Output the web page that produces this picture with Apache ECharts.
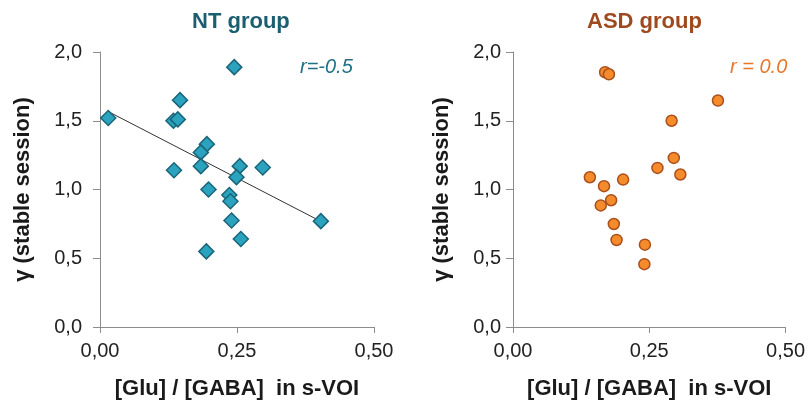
<!DOCTYPE html>
<html>
<head>
<meta charset="utf-8">
<script src="https://cdn.jsdelivr.net/npm/echarts@6/dist/echarts.min.js"></script>
<style>
  html, body { margin: 0; padding: 0; background: #fff; }
  #chart { width: 808px; height: 405px; }
</style>
</head>
<body>
<div id="chart"></div>
<script>
// NT group (diamonds)
var ntX = [0.015, 0.245, 0.146, 0.134, 0.142, 0.195, 0.184, 0.184, 0.135, 0.255,
           0.297, 0.249, 0.198, 0.236, 0.238, 0.240, 0.257, 0.194, 0.403];
var ntY = [1.52, 1.89, 1.65, 1.50, 1.51, 1.33, 1.27, 1.17, 1.14, 1.17,
           1.16, 1.09, 1.00, 0.96, 0.915, 0.775, 0.64, 0.55, 0.77];
// regression line end points
var trendX = [0.015, 0.403];
var trendY = [1.567, 0.768];

// ASD group (circles)
var asdX = [0.169, 0.176, 0.376, 0.291, 0.295, 0.265, 0.307, 0.141, 0.202, 0.167,
            0.180, 0.161, 0.185, 0.190, 0.242, 0.241];
var asdY = [1.853, 1.838, 1.647, 1.50, 1.23, 1.157, 1.109, 1.089, 1.072, 1.024,
            0.922, 0.884, 0.749, 0.633, 0.599, 0.457];

var yTicks = [0, 0.5, 1.0, 1.5, 2.0];
var xTicks = [0, 0.25, 0.5];

function pairs(xs, ys) {
    return xs.map(function (x, i) { return [x, ys[i]]; });
}

var dom = document.getElementById('chart');
var myChart = echarts.init(dom, null, { renderer: 'canvas' });

var font = 'Liberation Sans, Arial, sans-serif';
var axisLineColor = '#8c8c8c';

function makeX(idx) {
    return {
        type: 'value', gridIndex: idx,
        min: xTicks[0], max: xTicks[xTicks.length - 1], interval: 0.25,
        name: '[Glu] / [GABA]  in s-VOI',
        nameLocation: 'middle', nameGap: 51,
        nameTextStyle: { fontFamily: font, fontSize: 22, fontWeight: 'bold', color: '#1a1a1a' },
        axisLine: { show: true, lineStyle: { color: axisLineColor, width: 1 } },
        axisTick: { show: true, length: 6, lineStyle: { color: axisLineColor } },
        axisLabel: {
            fontFamily: font, fontSize: 20, color: '#222', margin: 14,
            formatter: function (v) { return v.toFixed(2).replace('.', ','); }
        },
        splitLine: { show: false }
    };
}

function makeY(idx, margin, gap) {
    return {
        type: 'value', gridIndex: idx,
        min: yTicks[0], max: yTicks[yTicks.length - 1], interval: 0.5,
        name: 'γ (stable session)',
        nameLocation: 'middle', nameGap: gap,
        nameTextStyle: { fontFamily: font, fontSize: 22, fontWeight: 'bold', color: '#1a1a1a' },
        axisLine: { show: true, lineStyle: { color: axisLineColor, width: 1 } },
        axisTick: { show: true, length: 7, lineStyle: { color: axisLineColor } },
        axisLabel: {
            fontFamily: font, fontSize: 20, color: '#222', margin: margin,
            formatter: function (v) { return v.toFixed(1).replace('.', ','); }
        },
        splitLine: { show: false }
    };
}

var option = {
    backgroundColor: '#fff',
    animation: false,
    title: [
        { text: 'NT group', left: 187, top: 6,
          textStyle: { fontFamily: font, fontSize: 22, fontWeight: 'bold', color: '#1b5e70' } },
        { text: 'ASD group', left: 582, top: 6,
          textStyle: { fontFamily: font, fontSize: 22, fontWeight: 'bold', color: '#9e4a1e' } },
        { text: 'r=-0.5', left: 295, top: 52,
          textStyle: { fontFamily: font, fontSize: 20, fontStyle: 'italic', fontWeight: 'normal', color: '#1f6f86' } },
        { text: 'r = 0.0', left: 725, top: 52,
          textStyle: { fontFamily: font, fontSize: 20, fontStyle: 'italic', fontWeight: 'normal', color: '#e8772a' } }
    ],
    grid: [
        { left: 100, right: 434, top: 52, bottom: 77 },
        { left: 513, right: 20, top: 52, bottom: 77 }
    ],
    xAxis: [makeX(0), makeX(1)],
    yAxis: [makeY(0, 18, 66), makeY(1, 12, 60)],
    series: [
        {
            name: 'trend', type: 'line', xAxisIndex: 0, yAxisIndex: 0,
            data: pairs(trendX, trendY), showSymbol: false, symbol: 'none',
            lineStyle: { color: '#333', width: 1 }, z: 1
        },
        {
            name: 'NT', type: 'scatter', xAxisIndex: 0, yAxisIndex: 0,
            data: pairs(ntX, ntY), symbol: 'diamond', symbolSize: 15,
            itemStyle: { color: '#2ba3bf', borderColor: '#1b6578', borderWidth: 1.5, opacity: 1 }, z: 2
        },
        {
            name: 'ASD', type: 'scatter', xAxisIndex: 1, yAxisIndex: 1,
            data: pairs(asdX, asdY), symbol: 'circle', symbolSize: 11,
            itemStyle: { color: '#f68b2c', borderColor: '#a9501c', borderWidth: 1.5, opacity: 1 }, z: 2
        }
    ]
};

if (option && typeof option === 'object') {
    myChart.setOption(option, true);
}
</script>
</body>
</html>
